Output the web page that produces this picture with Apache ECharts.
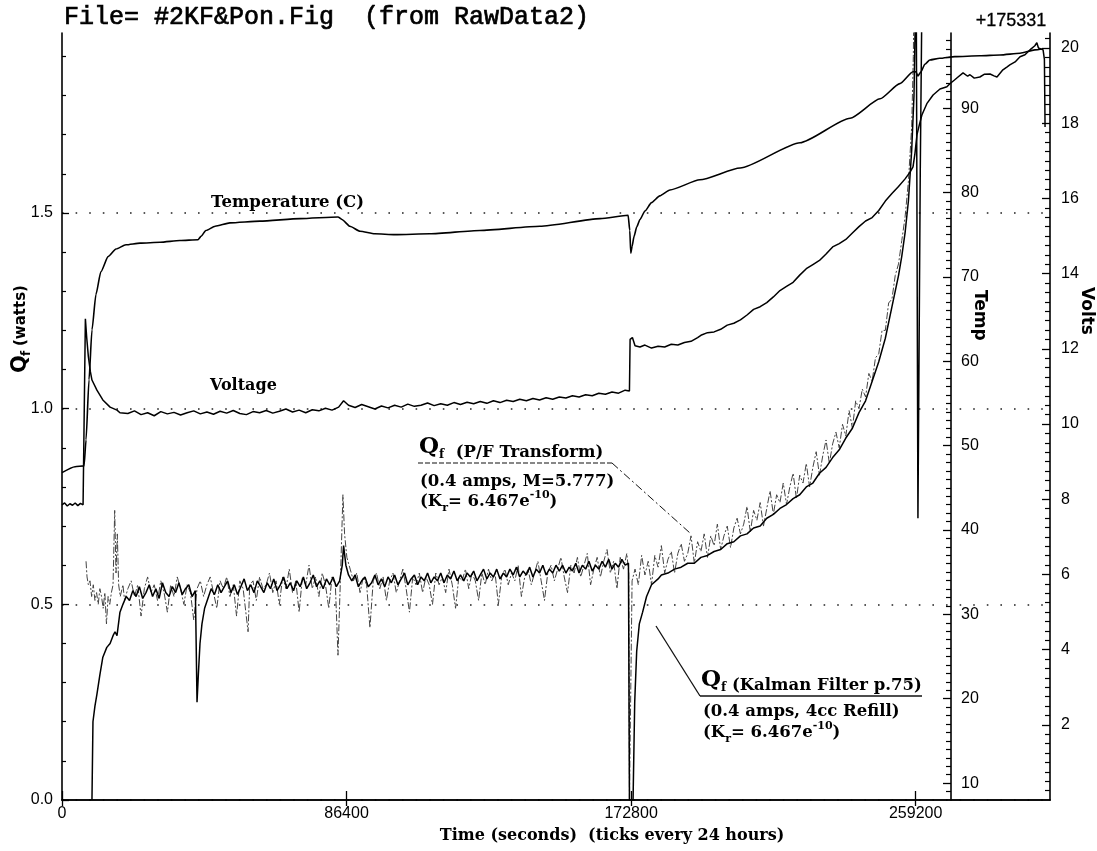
<!DOCTYPE html>
<html><head><meta charset="utf-8">
<script src="https://cdn.jsdelivr.net/npm/echarts@6/dist/echarts.min.js"></script>
<style>html,body{margin:0;padding:0;background:#fff}#c{width:1097px;height:851px}</style>
</head><body><div id="c"></div>
<script>
// ---- tick labels ----
const xTickValues = [0, 86400, 172800, 259200];
const qfTickValues = [0, 0.5, 1.0, 1.5];
const tempTickValues = [10, 20, 30, 40, 50, 60, 70, 80, 90];
const voltTickValues = [2, 4, 6, 8, 10, 12, 14, 16, 18, 20];

// ---- series: [time (s), value] ----
const tempData = [[0,46.8],[3950,47.5],[6700,47.6],[7300,50.7],[8200,57.8],[9100,63.7],[10300,67.9],[11800,70.6],[14000,72.4],[16400,73.3],[19400,73.8],[23700,74.0],[29800,74.1],[35800,74.3],[41300,74.4],[42200,74.8],[43700,75.5],[46500,76.0],[51000,76.4],[60100,76.6],[72300,76.9],[83800,77.1],[85000,76.8],[87400,76.0],[90500,75.4],[95000,75.1],[101100,75.0],[111700,75.1],[126900,75.5],[145100,76.0],[163400,76.9],[171900,77.3],[172400,75.5],[172700,72.8],[173100,73.6],[173700,74.8],[174500,75.9],[175500,76.8],[177000,77.8],[179000,78.8],[181500,79.6],[184600,80.3],[193700,81.5],[205900,82.9],[224100,85.9],[239300,88.8],[248400,91.1],[254400,92.9],[258400,94.3],[259300,94.3],[259900,93.8],[260800,94.3],[262000,95.2],[263500,95.7],[266500,95.9],[271100,96.1],[278700,96.2],[284800,96.3],[290900,96.5],[295400,96.9],[297900,97.0]];

const voltData = [[0,7.85],[800,7.9],[1600,7.82],[2400,7.88],[3200,7.84],[4000,7.9],[4800,7.83],[5600,7.89],[6400,7.85],[6900,7.88],[7100,12.8],[7500,12.3],[8000,11.8],[8600,11.4],[9100,11.17],[10600,10.9],[12400,10.64],[14600,10.45],[16700,10.37],[17600,10.3],[18000,10.32],[20000,10.28],[22000,10.35],[24000,10.25],[26000,10.3],[28000,10.22],[30000,10.33],[32000,10.27],[34000,10.31],[36000,10.24],[38000,10.3],[40000,10.35],[42000,10.27],[44000,10.32],[46000,10.26],[48000,10.34],[50000,10.29],[52000,10.36],[54000,10.28],[56000,10.25],[58000,10.33],[60000,10.3],[62000,10.36],[64000,10.29],[66000,10.34],[68000,10.4],[70000,10.32],[72000,10.37],[74000,10.3],[76000,10.38],[78000,10.35],[80000,10.42],[82000,10.37],[84000,10.45],[85500,10.62],[87000,10.5],[89000,10.44],[91000,10.52],[93000,10.46],[95000,10.4],[97000,10.48],[99000,10.43],[101000,10.5],[103000,10.45],[105000,10.53],[107000,10.47],[109000,10.5],[111000,10.56],[113000,10.49],[115000,10.54],[117000,10.5],[119000,10.57],[121000,10.52],[123000,10.58],[125000,10.54],[127000,10.6],[129000,10.55],[131000,10.62],[133000,10.57],[135000,10.63],[137000,10.6],[139000,10.66],[141000,10.62],[143000,10.68],[145000,10.64],[147000,10.7],[149000,10.66],[151000,10.72],[153000,10.69],[155000,10.75],[157000,10.72],[159000,10.78],[161000,10.75],[163000,10.82],[165000,10.79],[167000,10.85],[169000,10.82],[171000,10.9],[172300,10.88],[172500,12.25],[173200,12.3],[174000,12.08],[175500,12.05],[177000,12.1],[179000,12.02],[181000,12.07],[183000,12.05],[185000,12.12],[187000,12.1],[189000,12.17],[191000,12.2],[193000,12.3],[194000,12.36],[196000,12.43],[198000,12.45],[200000,12.52],[202000,12.63],[204000,12.68],[206000,12.77],[208000,12.9],[210000,13.05],[212000,13.12],[214000,13.23],[216000,13.38],[218000,13.55],[220000,13.66],[222000,13.77],[224000,13.96],[226000,14.13],[228000,14.24],[230000,14.35],[232000,14.52],[234000,14.71],[236000,14.8],[238000,14.91],[240000,15.08],[242000,15.25],[244000,15.4],[246000,15.49],[248000,15.68],[250000,15.93],[252000,16.13],[254000,16.32],[256000,16.52],[257500,16.7],[258400,16.84],[259000,17.2],[259600,17.69],[260300,17.95],[261100,18.22],[262600,18.52],[264500,18.75],[266600,18.91],[268700,18.97],[269600,19.05],[271000,19.15],[271800,19.21],[273600,19.34],[275000,19.25],[275700,19.29],[277000,19.2],[278700,19.23],[280000,19.3],[281800,19.31],[283000,19.26],[283900,19.23],[285700,19.42],[287000,19.5],[287800,19.55],[289400,19.63],[290900,19.77],[292400,19.82],[293900,19.95],[295400,20.06],[296000,20.14],[296500,20.0],[297000,20.03],[297900,19.95],[298300,19.7],[298500,17.9]];

const pfData = [[7300,0.61],[7600,0.57],[8000,0.55],[8500,0.56],[9000,0.52],[9500,0.55],[10000,0.51],[10500,0.53],[11000,0.5],[11500,0.54],[12000,0.52],[12500,0.49],[13000,0.53],[13500,0.45],[14000,0.52],[14500,0.5],[15000,0.53],[15500,0.55],[16000,0.74],[16400,0.58],[16800,0.68],[17200,0.55],[17700,0.52],[18500,0.55],[19000,0.51],[20000,0.54],[21000,0.56],[22000,0.52],[23000,0.55],[24000,0.47],[25000,0.54],[26000,0.57],[27000,0.53],[28000,0.55],[29000,0.51],[30000,0.56],[31000,0.53],[32000,0.48],[33000,0.55],[34000,0.52],[35000,0.57],[36000,0.54],[37000,0.5],[38000,0.55],[39000,0.53],[40000,0.46],[41000,0.54],[42000,0.56],[43000,0.52],[44000,0.55],[45000,0.57],[46000,0.53],[47000,0.49],[48000,0.56],[49000,0.54],[50000,0.57],[51000,0.52],[52000,0.55],[53000,0.47],[54000,0.56],[55000,0.54],[56500,0.43],[57000,0.55],[58000,0.56],[59000,0.51],[60000,0.57],[61000,0.54],[62000,0.55],[63000,0.58],[64000,0.53],[65000,0.56],[66000,0.5],[67000,0.57],[68000,0.54],[69000,0.59],[70000,0.53],[71000,0.56],[72000,0.48],[73000,0.57],[74000,0.55],[75000,0.6],[76000,0.54],[77000,0.57],[78000,0.52],[79000,0.58],[80000,0.55],[81000,0.49],[82000,0.57],[83000,0.55],[83800,0.37],[84600,0.58],[85300,0.78],[85800,0.68],[86500,0.62],[87500,0.59],[88500,0.56],[89500,0.58],[90500,0.53],[91500,0.57],[92500,0.55],[93500,0.44],[94500,0.56],[95500,0.58],[96500,0.54],[97500,0.57],[98500,0.51],[99500,0.56],[100500,0.58],[101500,0.53],[102500,0.56],[103500,0.59],[104500,0.54],[105500,0.48],[106500,0.57],[107500,0.55],[108500,0.58],[109500,0.53],[110500,0.57],[111500,0.55],[112500,0.5],[113500,0.58],[114500,0.55],[115500,0.57],[116500,0.53],[117500,0.59],[118500,0.55],[119500,0.49],[120500,0.57],[121500,0.56],[122500,0.59],[123500,0.54],[124500,0.58],[125500,0.56],[126500,0.51],[127500,0.58],[128500,0.55],[129500,0.59],[130500,0.56],[131500,0.58],[132500,0.5],[133500,0.57],[134500,0.59],[135500,0.55],[136500,0.58],[137500,0.56],[138500,0.6],[139500,0.52],[140500,0.57],[141500,0.59],[142500,0.55],[143500,0.58],[144500,0.61],[145500,0.56],[146500,0.51],[147500,0.58],[148500,0.6],[149500,0.56],[150500,0.59],[151500,0.62],[152500,0.57],[153500,0.53],[154500,0.6],[155500,0.58],[156500,0.62],[157500,0.57],[158500,0.6],[159500,0.63],[160500,0.55],[161500,0.59],[162500,0.62],[163500,0.57],[164500,0.61],[165500,0.64],[166500,0.58],[167500,0.61],[168500,0.54],[169500,0.62],[170500,0.59],[171500,0.63],[172100,0.58],[172300,0],[172900,0],[173100,0.56],[174000,0.59],[175000,0.55],[176000,0.625],[177000,0.575],[178000,0.61],[179000,0.55],[180000,0.625],[181000,0.595],[182000,0.65],[183000,0.58],[184000,0.615],[185000,0.635],[186000,0.58],[187000,0.63],[188000,0.655],[189000,0.61],[190000,0.63],[191000,0.675],[192000,0.605],[193000,0.66],[194000,0.635],[195000,0.68],[196000,0.62],[197000,0.675],[198000,0.65],[199000,0.705],[200000,0.64],[201000,0.675],[202000,0.7],[203000,0.645],[204000,0.695],[205000,0.72],[206000,0.68],[207000,0.705],[208000,0.75],[209000,0.685],[210000,0.74],[211000,0.715],[212000,0.76],[213000,0.7],[214000,0.745],[215000,0.79],[216000,0.73],[217000,0.78],[218000,0.76],[219000,0.81],[220000,0.755],[221000,0.8],[222000,0.835],[223000,0.77],[224000,0.83],[225000,0.81],[226000,0.86],[227000,0.8],[228000,0.85],[229000,0.89],[230000,0.83],[231000,0.88],[232000,0.92],[233000,0.86],[234000,0.91],[235000,0.94],[236000,0.9],[237000,0.96],[238000,0.93],[239000,0.995],[240000,0.95],[241000,1.02],[242000,1.0],[243000,1.05],[244000,1.03],[245000,1.09],[246000,1.07],[247000,1.13],[248000,1.14],[249000,1.2],[250000,1.2],[251000,1.27],[252000,1.28],[253000,1.34],[254000,1.37],[255000,1.43],[256000,1.49],[257000,1.58],[258000,1.72],[258500,1.9],[259000,2.3]];

const kalmanData = [[9100,0],[9400,0.2],[10000,0.24],[10600,0.27],[11500,0.32],[12400,0.365],[13600,0.39],[14600,0.4],[15500,0.42],[16100,0.43],[16700,0.42],[17600,0.48],[18500,0.5],[19500,0.52],[20500,0.51],[21500,0.535],[22500,0.52],[23500,0.545],[24500,0.515],[25500,0.53],[26500,0.55],[27500,0.52],[28500,0.54],[29500,0.515],[30500,0.555],[31500,0.53],[32500,0.52],[33500,0.545],[34500,0.53],[35500,0.555],[36500,0.525],[37500,0.54],[38500,0.55],[39500,0.52],[40500,0.535],[41000,0.25],[41400,0.32],[41900,0.4],[42500,0.45],[43300,0.49],[44300,0.515],[45300,0.54],[46300,0.525],[47300,0.55],[48300,0.53],[49300,0.545],[50300,0.56],[51300,0.53],[52300,0.55],[53300,0.525],[54300,0.545],[55300,0.565],[56300,0.535],[57300,0.55],[58300,0.53],[59300,0.56],[60300,0.545],[61300,0.53],[62300,0.555],[63300,0.54],[64300,0.565],[65300,0.535],[66300,0.55],[67300,0.57],[68300,0.54],[69300,0.555],[70300,0.535],[71300,0.56],[72300,0.545],[73300,0.57],[74300,0.54],[75300,0.555],[76300,0.575],[77300,0.545],[78300,0.56],[79300,0.54],[80300,0.565],[81300,0.55],[82300,0.57],[83300,0.545],[84300,0.56],[85100,0.6],[85500,0.65],[86200,0.6],[87000,0.575],[88000,0.56],[89000,0.575],[90000,0.545],[91000,0.56],[92000,0.57],[93000,0.545],[94000,0.555],[95000,0.575],[96000,0.55],[97000,0.565],[98000,0.545],[99000,0.57],[100000,0.555],[101000,0.575],[102000,0.55],[103000,0.565],[104000,0.58],[105000,0.55],[106000,0.565],[107000,0.575],[108000,0.55],[109000,0.57],[110000,0.56],[111000,0.58],[112000,0.555],[113000,0.57],[114000,0.56],[115000,0.58],[116000,0.555],[117000,0.575],[118000,0.565],[119000,0.585],[120000,0.56],[121000,0.575],[122000,0.56],[123000,0.58],[124000,0.57],[125000,0.585],[126000,0.56],[127000,0.575],[128000,0.59],[129000,0.565],[130000,0.58],[131000,0.57],[132000,0.59],[133000,0.565],[134000,0.58],[135000,0.57],[136000,0.59],[137000,0.575],[138000,0.595],[139000,0.57],[140000,0.585],[141000,0.575],[142000,0.595],[143000,0.57],[144000,0.59],[145000,0.58],[146000,0.6],[147000,0.575],[148000,0.59],[149000,0.58],[150000,0.6],[151000,0.585],[152000,0.6],[153000,0.58],[154000,0.595],[155000,0.585],[156000,0.605],[157000,0.58],[158000,0.6],[159000,0.59],[160000,0.61],[161000,0.585],[162000,0.6],[163000,0.59],[164000,0.61],[165000,0.595],[166000,0.615],[167000,0.59],[168000,0.605],[169000,0.595],[170000,0.615],[171000,0.6],[172000,0.605],[172300,0],[173400,0],[173900,0.25],[174500,0.38],[175300,0.45],[176300,0.48],[177500,0.52],[179000,0.55],[181000,0.565],[182000,0.575],[184000,0.58],[186000,0.59],[188000,0.595],[190000,0.605],[192000,0.605],[194000,0.62],[196000,0.625],[198000,0.635],[200000,0.64],[202000,0.655],[204000,0.66],[206000,0.675],[208000,0.68],[210000,0.695],[212000,0.7],[214000,0.72],[216000,0.73],[218000,0.745],[220000,0.755],[222000,0.77],[224000,0.78],[226000,0.8],[228000,0.81],[230000,0.835],[232000,0.85],[234000,0.875],[236000,0.895],[238000,0.925],[240000,0.95],[242000,0.99],[244000,1.02],[246000,1.07],[248000,1.12],[250000,1.18],[252000,1.26],[254000,1.34],[255000,1.39],[256000,1.45],[257000,1.53],[258000,1.66],[258700,1.8],[259100,2.0],[259300,2.3],[259500,2.3],[259900,0.72],[260600,1.6],[261400,2.3]];

// minor tick positions
const qfMinor = [], tempMinor = [], voltMinor = [];
for (let i = 1; i <= 19; i++) if (i % 5) qfMinor.push(+(i / 10).toFixed(1));
for (let v = 9; v <= 98; v++) if (v % 10) tempMinor.push(v);
for (let v = 0.25; v <= 20.3; v += 0.25) if (Math.abs(v / 2 - Math.round(v / 2)) > 1e-6) voltMinor.push(+v.toFixed(2));

const SANS = '"Liberation Sans", Arial, sans-serif';
const SERIF = '"DejaVu Serif", serif';
const BLK = '#000';
const axisLineStyle = { show: true, lineStyle: { color: BLK, width: 1.6 } };

function yAx(o) {
  return Object.assign({ type: 'value', axisLine: axisLineStyle, splitLine: { show: false }, axisLabel: { show: false }, axisTick: { show: false } }, o);
}

const chart = echarts.init(document.getElementById('c'), null, { renderer: 'canvas' });
const txt = (x, y, text, font, extra) => ({ type: 'text', x, y, z: 100, style: Object.assign({ text, font, fill: BLK, textAlign: 'left', textVerticalAlign: 'middle' }, extra || {}) });
const ln = (x1, y1, x2, y2, dash, w) => ({ type: 'line', z: 100, shape: { x1, y1, x2, y2 }, style: { stroke: '#111', lineWidth: w || 1.2, lineDash: dash || null } });

// rich styles for annotations
const AF = 'bold 16.5px ' + SERIF;
const richQ = {
  q: { font: 'bold 23px ' + SERIF, lineHeight: 28, verticalAlign: 'middle' },
  s: { font: 'bold 12px ' + SERIF, lineHeight: 12, verticalAlign: 'bottom' },
  t: { font: AF, lineHeight: 22, verticalAlign: 'bottom' }
};
const richK = {
  m: { font: AF, lineHeight: 24, verticalAlign: 'middle' },
  sub: { font: 'bold 11px ' + SERIF, lineHeight: 10, verticalAlign: 'bottom' },
  sup: { font: 'bold 11px ' + SERIF, lineHeight: 14, verticalAlign: 'top' }
};
const rtxt = (x, y, text, rich) => ({ type: 'text', x, y, z: 100, style: { text, rich, fill: BLK, textAlign: 'left', textVerticalAlign: 'middle' } });

chart.setOption({
  animation: false,
  backgroundColor: '#fff',
  grid: { left: 62, right: 47, top: 33, bottom: 51, containLabel: false },
  xAxis: [
    { type: 'value', min: 0, max: 300000, interval: 86400, position: 'bottom', axisLine: axisLineStyle,
      axisTick: { show: true, inside: true, length: 9, customValues: xTickValues, lineStyle: { color: BLK, width: 1.3 } },
      axisLabel: { customValues: xTickValues, color: BLK, fontFamily: SANS, fontSize: 16, margin: 6, formatter: v => String(v) },
      splitLine: { show: false } },
    { type: 'value', min: 0, max: 300000, interval: 86400, position: 'top', axisLine: axisLineStyle,
      axisTick: { show: true, inside: true, length: 6, customValues: xTickValues, lineStyle: { color: BLK, width: 1.3 } },
      axisLabel: { show: false }, splitLine: { show: false } }
  ],
  yAxis: [
    yAx({ min: 0, max: 1.96, interval: 0.5, position: 'left',
      axisTick: { show: true, inside: true, length: 7, customValues: qfTickValues, lineStyle: { color: BLK, width: 1.3 } },
      axisLabel: { show: true, customValues: qfTickValues, color: BLK, fontFamily: SANS, fontSize: 16, margin: 9, formatter: v => v.toFixed(1) },
      splitLine: { show: true, lineStyle: { color: '#222', width: 1.6, type: [1.6, 12] } } }),
    yAx({ min: 0, max: 1.96, position: 'left', axisLine: { show: false },
      axisTick: { show: true, inside: true, length: 4, customValues: qfMinor, lineStyle: { color: BLK, width: 1.2 } } }),
    yAx({ min: 8, max: 98.9, position: 'right', offset: -99,
      axisTick: { show: true, inside: true, length: 8, customValues: tempTickValues, lineStyle: { color: BLK, width: 1.3 } },
      axisLabel: { show: true, customValues: tempTickValues, color: BLK, fontFamily: SANS, fontSize: 16, margin: 10 } }),
    yAx({ min: 8, max: 98.9, position: 'right', offset: -99, axisLine: { show: false },
      axisTick: { show: true, inside: true, length: 5, customValues: tempMinor, lineStyle: { color: BLK, width: 1.2 } } }),
    yAx({ min: 0, max: 20.4, position: 'right', offset: 0,
      axisTick: { show: true, inside: true, length: 8, customValues: voltTickValues, lineStyle: { color: BLK, width: 1.3 } },
      axisLabel: { show: true, customValues: voltTickValues, color: BLK, fontFamily: SANS, fontSize: 16, margin: 11 } }),
    yAx({ min: 0, max: 20.4, position: 'right', offset: 0, axisLine: { show: false },
      axisTick: { show: true, inside: true, length: 5, customValues: voltMinor, lineStyle: { color: BLK, width: 1.2 } } })
  ],
  series: [
    { name: 'PF', type: 'line', xAxisIndex: 0, yAxisIndex: 0, data: pfData, symbol: 'none', silent: true, z: 2,
      lineStyle: { color: '#444', width: 1, type: [7, 2, 2, 2] } },
    { name: 'Kalman', type: 'line', xAxisIndex: 0, yAxisIndex: 0, data: kalmanData, symbol: 'none', silent: true, z: 3,
      lineStyle: { color: BLK, width: 1.5 } },
    { name: 'Temperature', type: 'line', xAxisIndex: 0, yAxisIndex: 2, data: tempData, symbol: 'none', silent: true, z: 3,
      smooth: 0.2, smoothMonotone: 'x', lineStyle: { color: BLK, width: 1.6 } },
    { name: 'Voltage', type: 'line', xAxisIndex: 0, yAxisIndex: 4, data: voltData, symbol: 'none', silent: true, z: 3,
      lineStyle: { color: BLK, width: 1.5 } }
  ],
  graphic: [
    txt(64, 17, 'File= #2KF&Pon.Fig  (from RawData2)', '25px "Liberation Mono", monospace', { stroke: BLK, lineWidth: 0.7 }),
    txt(1011, 21, '+175331', '18px ' + SANS, { textAlign: 'center', stroke: BLK, lineWidth: 0.3 }),
    { type: 'group', x: 21, y: 373, rotation: Math.PI / 2, z: 100, children: [
      txt(0, 0, 'Q', 'bold 21px "DejaVu Sans"'),
      txt(17, 6, 'f', 'bold 12px "DejaVu Sans"'),
      txt(27, 0, '(watts)', 'bold 15px "DejaVu Sans"')
    ] },
    { type: 'group', x: 979, y: 290, rotation: -Math.PI / 2, z: 100, children: [ txt(0, 0, 'Temp', 'bold 17px "DejaVu Sans"') ] },
    { type: 'group', x: 1086, y: 287, rotation: -Math.PI / 2, z: 100, children: [ txt(0, 0, 'Volts', 'bold 17px "DejaVu Sans"') ] },
    txt(211, 203, 'Temperature (C)', AF),
    txt(210, 386, 'Voltage', 'bold 16px ' + SERIF),
    // P/F annotation
    rtxt(419, 447, '{q|Q}{s|f}{t|  (P/F Transform)}', richQ),
    ln(418, 463, 612, 463, [5, 2], 1.2),
    ln(612, 463, 690, 533, [8, 3, 2, 3], 1),
    txt(420, 482, '(0.4 amps, M=5.777)', AF),
    rtxt(420, 502, '{m|(K}{sub|r}{m|= 6.467e}{sup|-10}{m|)}', richK),
    // Kalman annotation
    ln(656, 626, 700, 696, null, 1.3),
    ln(700, 696, 922, 696, null, 1.3),
    rtxt(701, 680, '{q|Q}{s|f}{t| (Kalman Filter p.75)}', richQ),
    txt(703, 712, '(0.4 amps, 4cc Refill)', AF),
    rtxt(703, 733, '{m|(K}{sub|r}{m|= 6.467e}{sup|-10}{m|)}', richK),
    txt(612, 836, 'Time (seconds)  (ticks every 24 hours)', 'bold 16px ' + SERIF, { textAlign: 'center' })
  ]
});
</script></body></html>
